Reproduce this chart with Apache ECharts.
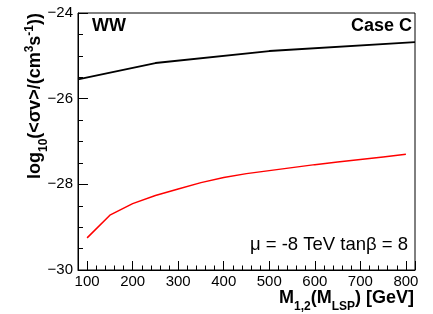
<!DOCTYPE html>
<html>
<head>
<meta charset="utf-8">
<script src="https://cdn.jsdelivr.net/npm/echarts@6/dist/echarts.min.js"></script>
<style>html,body{margin:0;padding:0;background:#fff;}#c{width:433px;height:314px;}</style>
</head>
<body>
<div id="c"></div>
<script>
// Data
const wwMass = [80, 250, 500, 820];
const wwLogSigmaV = [-25.55, -25.17, -24.89, -24.68];
const caseMass = [100, 150, 200, 250, 300, 350, 400, 450, 500, 550, 600, 650, 700, 750, 800];
const caseLogSigmaV = [-29.25, -28.72, -28.45, -28.26, -28.11, -27.96, -27.84, -27.75, -27.68, -27.61, -27.54, -27.48, -27.42, -27.36, -27.30];
const xRange = [80, 820];
const yRange = [-30, -24];
const yTickStep = 2;

const FONT = '"Liberation Sans", Arial, Helvetica, sans-serif';
const pair = (xs, ys) => xs.map((x, i) => [x, ys[i]]);
const fmtNum = v => (v < 0 ? '\u2212' + Math.abs(v) : String(v));

const chart = echarts.init(document.getElementById('c'), null, {renderer: 'canvas'});
const mainT = {fontSize: 18, fontWeight: 'bold', fontFamily: FONT, color: '#000', lineHeight: 30, verticalAlign: 'middle'};
const subT = {fontSize: 12, fontWeight: 'bold', fontFamily: FONT, color: '#000', lineHeight: 30, verticalAlign: 'bottom'};
const supT = {fontSize: 12, fontWeight: 'bold', fontFamily: FONT, color: '#000', lineHeight: 30, verticalAlign: 'top', padding: [4, 0, 0, 0]};

chart.setOption({
  animation: false,
  backgroundColor: '#fff',
  grid: {left: 78, right: 18, top: 13, bottom: 44, show: true, borderColor: '#000', borderWidth: 1, outerBoundsMode: 'none', containLabel: false},
  xAxis: {
    type: 'value', min: xRange[0], max: xRange[1], splitNumber: 7,
    axisLine: {show: true, lineStyle: {color: '#000', width: 1}},
    axisTick: {show: true, inside: true, length: 9, lineStyle: {color: '#000'}},
    minorTick: {show: true, splitNumber: 5, length: 4.5, lineStyle: {color: '#000'}},
    splitLine: {show: false},
    axisLabel: {
      color: '#000', fontSize: 15, fontFamily: FONT, margin: 4,
      showMinLabel: false, showMaxLabel: false,
      formatter: v => (v % 100 === 0 ? fmtNum(v) : '')
    }
  },
  yAxis: {
    type: 'value', min: yRange[0], max: yRange[1], interval: yTickStep,
    axisLine: {show: true, lineStyle: {color: '#000', width: 1}},
    axisTick: {show: true, inside: true, length: 10, lineStyle: {color: '#000'}},
    minorTick: {show: true, splitNumber: 4, length: 5, lineStyle: {color: '#000'}},
    splitLine: {show: false},
    axisLabel: {color: '#000', fontSize: 15, fontFamily: FONT, margin: 5, formatter: fmtNum}
  },
  series: [
    {type: 'line', data: pair(wwMass, wwLogSigmaV), symbol: 'none', lineStyle: {color: '#000', width: 2}, itemStyle: {color: '#000'}, z: 3},
    {type: 'line', data: pair(caseMass, caseLogSigmaV), symbol: 'none', lineStyle: {color: '#ff0000', width: 1.5}, itemStyle: {color: '#ff0000'}, z: 2}
  ],
  graphic: [
    {type: 'text', left: 92, top: 17, style: {text: 'WW', fontSize: 18, fontWeight: 'bold', fontFamily: FONT, fill: '#000'}},
    {type: 'text', right: 21, top: 17, style: {text: 'Case C', fontSize: 18, fontWeight: 'bold', fontFamily: FONT, fill: '#000'}},
    {type: 'text', right: 25, top: 235, style: {text: '\u03bc = -8 TeV tan\u03b2 = 8', fontSize: 18.5, fontFamily: FONT, fill: '#000'}},
    {type: 'text', x: 414, y: 298, style: {
      text: '{m|M}{s|1,2}{m|(M}{s|LSP}{m|) [GeV]}', align: 'right', verticalAlign: 'middle',
      rich: {m: mainT, s: subT}
    }},
    {type: 'text', x: 35, y: 13, rotation: Math.PI / 2, style: {
      text: '{m|log}{s|10}{m|(<\u03c3v>/(cm}{p|3}{m|s}{p|-1}{m|))}', align: 'right', verticalAlign: 'middle',
      rich: {m: mainT, s: subT, p: supT}
    }}
  ]
});
</script>
</body>
</html>
